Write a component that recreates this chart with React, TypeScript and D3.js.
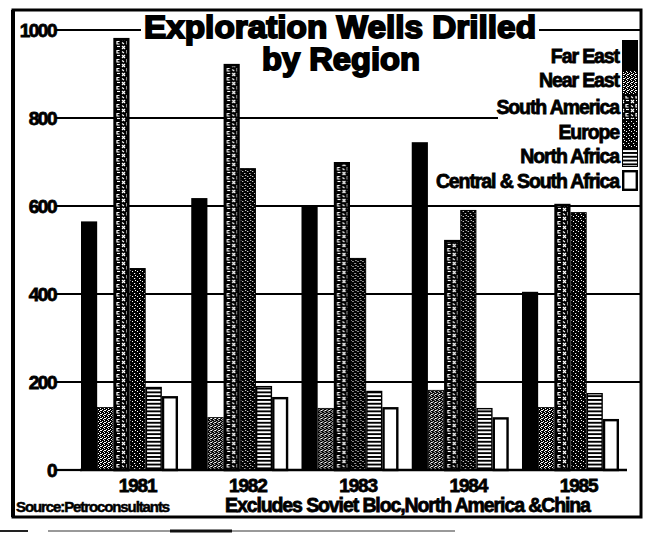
import React from 'react';
import * as d3 from 'd3';

// Exploration wells drilled per year, by region (excludes Soviet Bloc, North America & China)
const years = ['1981', '1982', '1983', '1984', '1985'];
const regions = ['Far East', 'Near East', 'South America', 'Europe', 'North Africa', 'Central & South Africa'];

const farEast = [565, 618, 598, 745, 405];
const nearEast = [143, 120, 141, 182, 143];
const southAmerica = [982, 923, 700, 523, 605];
const europe = [459, 686, 482, 591, 586];
const northAfrica = [189, 191, 180, 141, 175];
const centralSouthAfrica = [168, 166, 143, 120, 116];

const yTicks = [0, 200, 400, 600, 800, 1000];

const seriesValues = [farEast, nearEast, southAmerica, europe, northAfrica, centralSouthAfrica];

const W = 648;
const H = 535;
const FONT = "'Liberation Sans', Arial, Helvetica, sans-serif";

const fills = ['#000', 'url(#pNear)', 'url(#pSouth)', 'url(#pEurope)', 'url(#pNorth)', '#fff'];
const strokeW = [0, 0.8, 2.6, 1, 1.4, 2.4];

// legend swatch column spans (top, bottom) and label baselines
const legendSpans: [number, number][] = [[40, 70], [70, 95], [95, 120], [120, 148], [148, 167], [170, 191]];
const legendBaselines = [63, 87, 114, 139, 163, 188];

const heavy = { fontWeight: 'bold' as const, stroke: '#000', strokeWidth: 0.8 };

export default function App() {
  const y = d3.scaleLinear().domain([0, 1000]).range([470, 30]);
  const x0 = d3.scaleBand<string>().domain(years).range([81, 619]).paddingInner(0.12).paddingOuter(0);
  const x1 = d3.scaleBand<string>().domain(regions).range([0, x0.bandwidth()]).padding(0);

  const gridEnd = (t: number) => (t === 800 ? 498 : 640);

  return (
    <svg width={W} height={H} style={{ position: 'absolute', left: 0, top: 0, background: '#fff' }} fontFamily={FONT}>
      <defs>
        <pattern id="pNear" width="4" height="4" patternUnits="userSpaceOnUse">
          <rect width="4" height="4" fill="#fff" />
          <rect x="0" y="0" width="3" height="1" fill="#000" />
          <rect x="2" y="1" width="2" height="1" fill="#000" />
          <rect x="0" y="1" width="1" height="1" fill="#000" />
          <rect x="1" y="2" width="2" height="1" fill="#000" />
          <rect x="3" y="3" width="1" height="1" fill="#000" />
          <rect x="0" y="3" width="2" height="1" fill="#000" />
        </pattern>
        <pattern id="pSouth" width="10" height="9" patternUnits="userSpaceOnUse">
          <rect width="10" height="9" fill="#000" />
          <path d="M1 1 L4 4 M4 1 L1 4" stroke="#fff" strokeWidth="1.2" />
          <path d="M8.5 5.5 H6 V8 H8.5" stroke="#fff" strokeWidth="1.2" fill="none" />
          <path d="M6 1.5 H9" stroke="#fff" strokeWidth="1.1" />
          <path d="M1 6.5 L3 8" stroke="#fff" strokeWidth="1.1" />
        </pattern>
        <pattern id="pEurope" width="5" height="5" patternUnits="userSpaceOnUse">
          <rect width="5" height="5" fill="#000" />
          <rect x="1" y="1" width="1" height="1" fill="#fff" />
          <rect x="3" y="3" width="1.2" height="1" fill="#fff" />
          <rect x="4" y="0" width="1" height="1" fill="#fff" />
        </pattern>
        <pattern id="pNorth" width="4" height="3.8" patternUnits="userSpaceOnUse">
          <rect width="4" height="3.8" fill="#fff" />
          <rect y="0" width="4" height="1.9" fill="#000" />
        </pattern>
      </defs>

      {/* frame */}
      <rect x={13} y={10} width={628} height={507} fill="none" stroke="#000" strokeWidth={3} />
      <line x1={13} x2={13} y1={10} y2={517} stroke="#000" strokeWidth={4} />

      {/* gridlines and y tick labels */}
      {yTicks.map((t) => (
        <g key={t}>
          {t > 0 && (
            <line x1={56} x2={gridEnd(t)} y1={y(t)} y2={y(t)} stroke="#000" strokeWidth={2.2} />
          )}
          {t === 0 && <line x1={56} x2={82} y1={y(t)} y2={y(t)} stroke="#000" strokeWidth={2.2} />}
          <text x={56} y={y(t) + 6.5} textAnchor="end" fontSize={19} letterSpacing={-1.5} {...heavy}>
            {t}
          </text>
        </g>
      ))}

      {/* bars */}
      {years.map((yr, i) => (
        <g key={yr} transform={`translate(${x0(yr)},0)`}>
          {regions.map((r, j) => {
            const v = seriesValues[j][i];
            const sw = strokeW[j];
            return (
              <rect
                key={r}
                x={(x1(r) as number) + sw / 2}
                y={y(v) + sw / 2}
                width={x1.bandwidth() - sw}
                height={y(0) - y(v) - sw / 2}
                fill={fills[j]}
                stroke={sw > 0 ? '#000' : 'none'}
                strokeWidth={sw}
              />
            );
          })}
        </g>
      ))}
      <line x1={80} x2={627} y1={y(0)} y2={y(0)} stroke="#000" strokeWidth={2.4} />

      {/* year labels */}
      {years.map((yr) => (
        <text
          key={yr}
          x={(x0(yr) as number) + (x1('Europe') as number) + x1.bandwidth() / 2}
          y={492}
          textAnchor="middle"
          fontSize={19}
          letterSpacing={-1.2}
          {...heavy}
        >
          {yr}
        </text>
      ))}

      {/* title */}
      <rect x={141} y={13} width={398} height={28} fill="#fff" />
      <text x={144} y={38} fontSize={31} fontWeight="bold" textLength={392} lengthAdjust="spacingAndGlyphs" stroke="#000" strokeWidth={1.8}>
        Exploration Wells Drilled
      </text>
      <text x={262} y={70} fontSize={31} fontWeight="bold" textLength={158} lengthAdjust="spacingAndGlyphs" stroke="#000" strokeWidth={1.8}>
        by Region
      </text>

      {/* legend */}
      {regions.map((r, j) => {
        const [t, b] = legendSpans[j];
        const sw = j === 5 ? 2.4 : j === 0 ? 0 : 1;
        return (
          <g key={r}>
            <rect x={622 + sw / 2} y={t + sw / 2} width={16 - sw} height={b - t - sw} fill={fills[j]} stroke={sw ? '#000' : 'none'} strokeWidth={sw} />
            <text x={619} y={legendBaselines[j]} textAnchor="end" fontSize={19.5} letterSpacing={-1.1} {...heavy}>
              {r}
            </text>
          </g>
        );
      })}

      {/* notes */}
      <text x={16} y={512} fontSize={15} letterSpacing={-1.1} {...heavy} strokeWidth={0.5}>
        Source:Petroconsultants
      </text>
      <text x={225} y={512} fontSize={19.5} letterSpacing={-1.1} {...heavy}>
        Excludes Soviet Bloc,North America &amp;China
      </text>

      {/* scanner edge marks below the frame */}
      <line x1={0} x2={28} y1={531} y2={531} stroke="#222" strokeWidth={2} />
      <line x1={48} x2={455} y1={531} y2={531} stroke="#777" strokeWidth={1.5} />
      <line x1={170} x2={232} y1={531} y2={531} stroke="#111" strokeWidth={3} />
    </svg>
  );
}
